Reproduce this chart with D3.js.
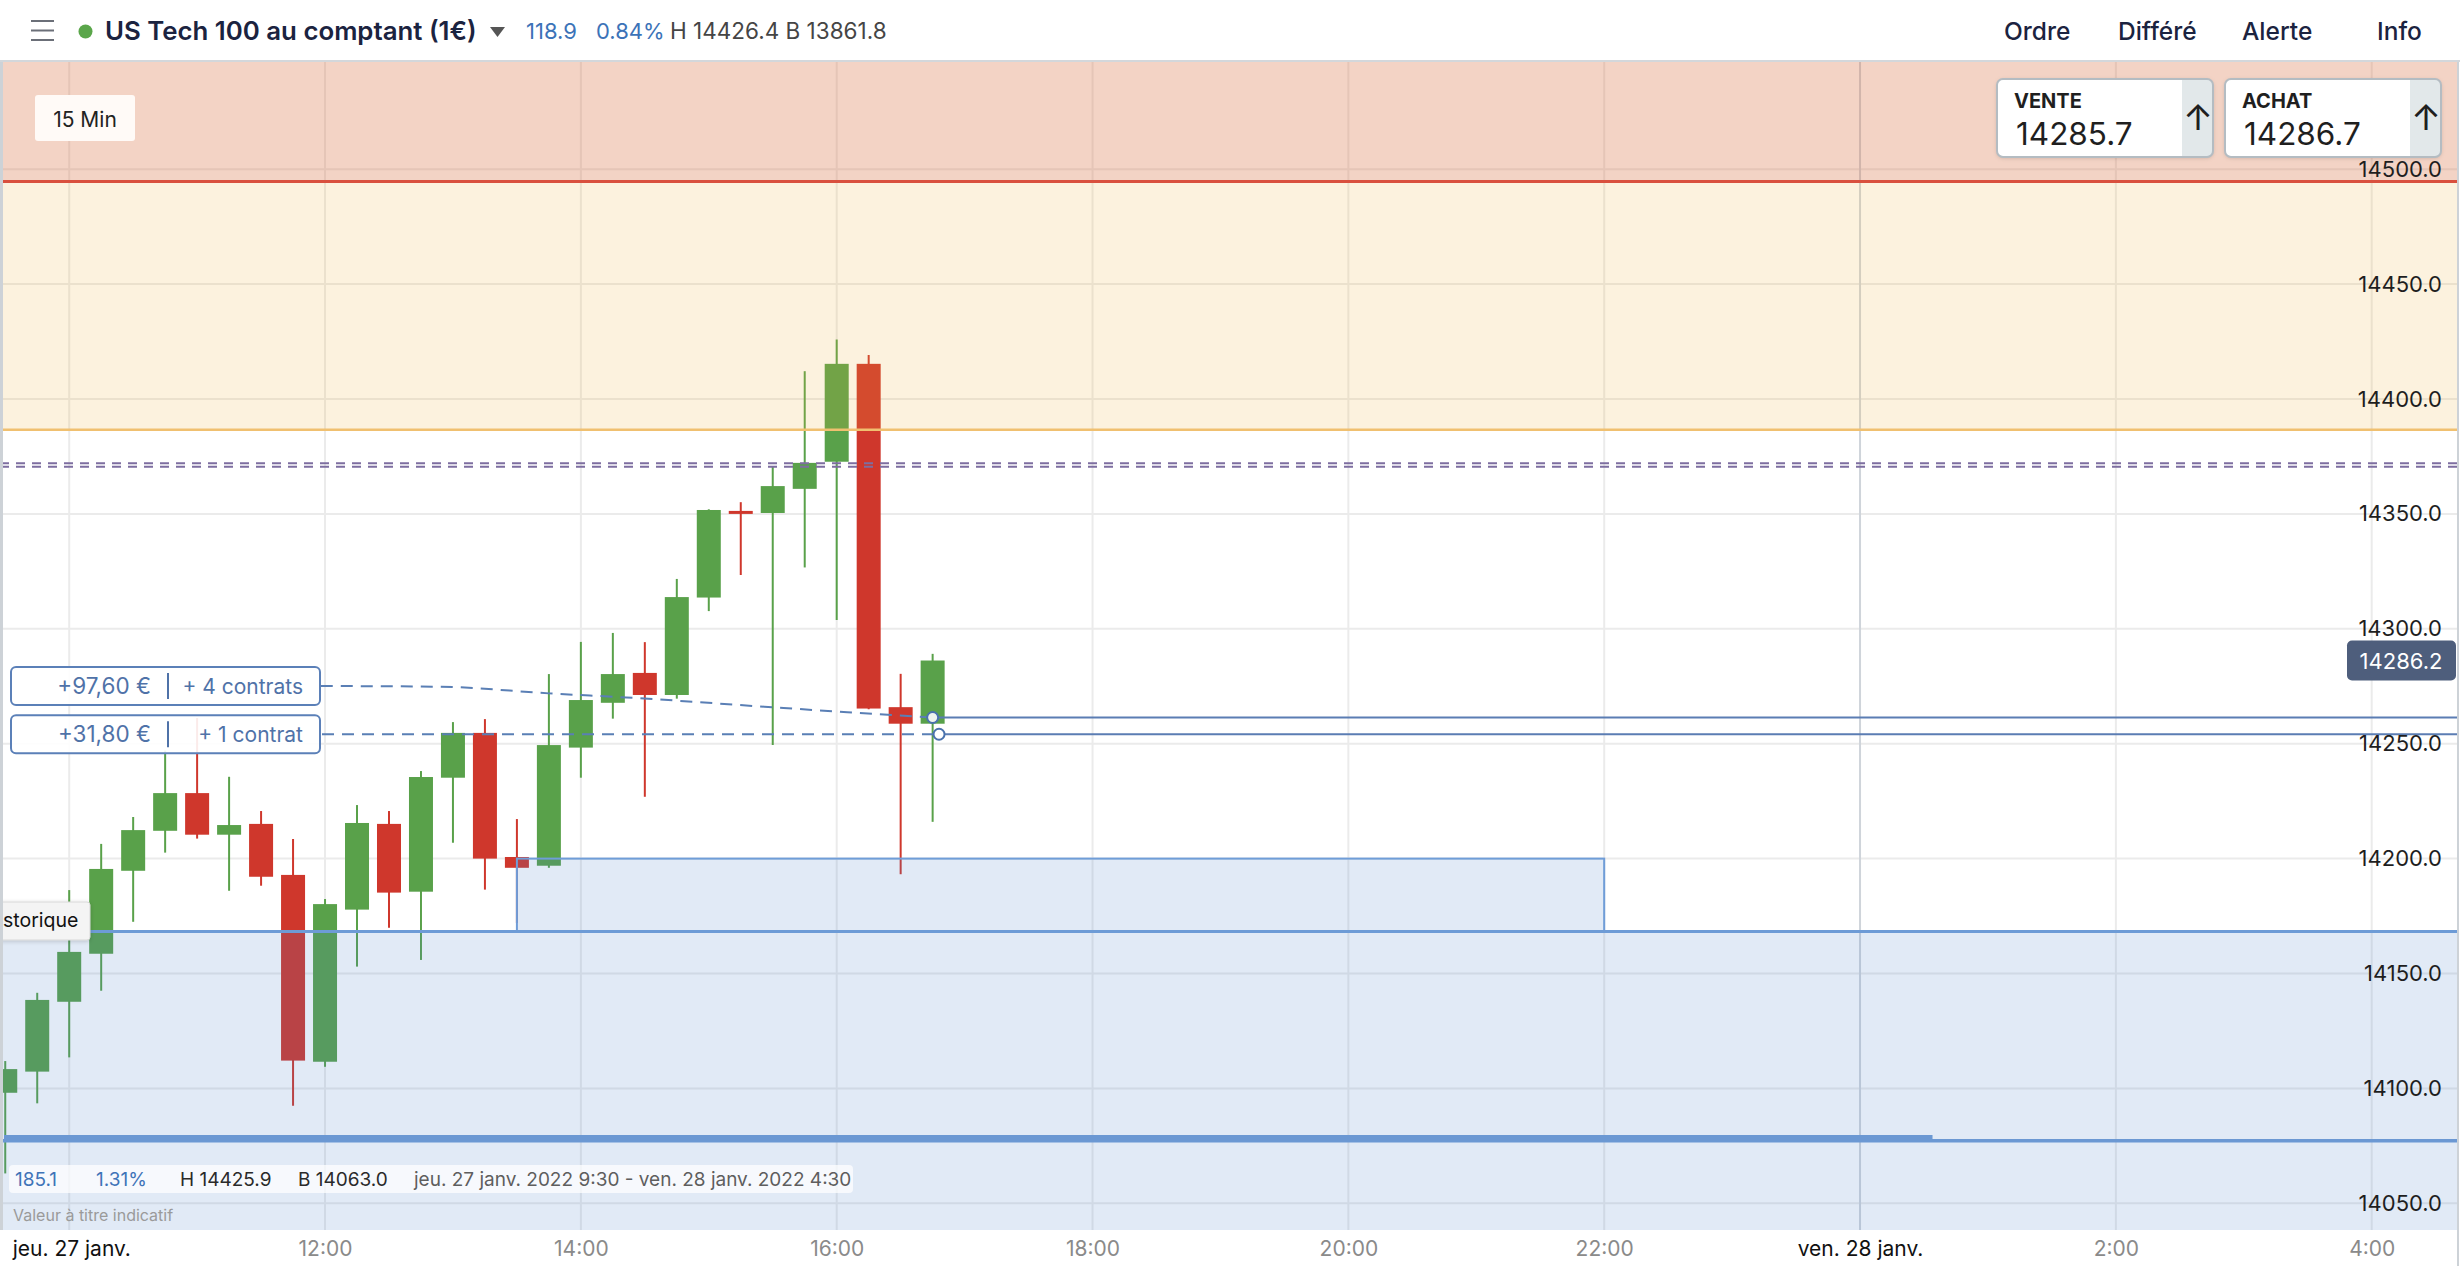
<!DOCTYPE html>
<html>
<head>
<meta charset="utf-8">
<script src="https://cdn.jsdelivr.net/npm/d3@7"></script>
<style>
  body { margin: 0; background: #fff; overflow: hidden; }
  svg { display: block; font-family: Inter, "Noto Sans", sans-serif; }
</style>
</head>
<body>
<div id="chart"></div>
<script>
// ---- data ----
const candleTimes = [
  "09:30", "09:45", "10:00", "10:15", "10:30", "10:45", "11:00", "11:15", "11:30", "11:45",
  "12:00", "12:15", "12:30", "12:45", "13:00", "13:15", "13:30", "13:45", "14:00", "14:15",
  "14:30", "14:45", "15:00", "15:15", "15:30", "15:45", "16:00", "16:15", "16:30", "16:45"
];
const opens = [
  14098.1, 14107.3, 14137.7, 14158.6, 14194.7, 14212.1, 14228.5, 14210.4, 14215.1, 14192.9,
  14111.6, 14177.8, 14215.1, 14185.6, 14235.2, 14254.7, 14200.7, 14196.9, 14248.3, 14267.8,
  14280.8, 14271.2, 14313.6, 14351.3, 14350.4, 14360.9, 14372.7, 14415.3, 14265.9, 14258.7
];
const highs = [
  14111.9, 14141.6, 14186.3, 14206.4, 14218.1, 14247.0, 14261.2, 14235.6, 14220.7, 14208.5,
  14182.4, 14223.3, 14220.7, 14238.1, 14259.4, 14260.7, 14217.2, 14280.3, 14294.3, 14298.2,
  14294.2, 14321.7, 14352.0, 14355.1, 14370.7, 14412.1, 14425.9, 14419.1, 14280.4, 14289.1
];
const lows = [
  14063.0, 14093.5, 14113.5, 14142.5, 14172.5, 14202.6, 14208.7, 14186.0, 14188.2, 14092.5,
  14109.4, 14153.0, 14169.9, 14155.9, 14206.9, 14186.5, 14172.0, 14196.0, 14235.2, 14260.9,
  14226.9, 14269.6, 14307.7, 14323.4, 14249.4, 14326.7, 14303.8, 14265.0, 14193.2, 14216.0
];
const closes = [
  14108.4, 14138.5, 14159.4, 14195.5, 14212.4, 14228.5, 14210.4, 14214.6, 14192.1, 14112.1,
  14180.2, 14215.5, 14185.2, 14235.5, 14254.7, 14200.0, 14196.0, 14249.4, 14269.0, 14280.3,
  14271.2, 14313.8, 14351.7, 14350.0, 14362.1, 14372.2, 14415.3, 14265.3, 14258.7, 14286.2
];

const priceTicks = [14050, 14100, 14150, 14200, 14250, 14300, 14350, 14400, 14450, 14500];
const timeTicks = [
  "2022-01-27 10:00", "2022-01-27 12:00", "2022-01-27 14:00", "2022-01-27 16:00",
  "2022-01-27 18:00", "2022-01-27 20:00", "2022-01-27 22:00", "2022-01-28 00:00",
  "2022-01-28 02:00", "2022-01-28 04:00"
];
const dayLabels = { "2022-01-27 10:00": "jeu. 27 janv.", "2022-01-28 00:00": "ven. 28 janv." };

// horizontal levels
const redLevel = 14494.6;
const orangeLevel = 14386.6;
const supportLevel = 14168.3;
const lowLevel = 14077.2;
const lowLevelThick = 14078.6;
const lowThickEnd = "2022-01-28 00:34";
const markerLevels = [14372.0, 14370.5];
const boxStart = "2022-01-27 13:30";
const boxEnd = "2022-01-27 22:00";
const boxTop = 14200.0;
const boxBottom = 14168.3;

// open positions
const posPnl = ["+97,60 €", "+31,80 €"];
const posSize = ["+ 4 contrats", "+ 1 contrat"];
const posLabelLevels = [14275.1, 14254.1];
const posEntryLevels = [14261.4, 14254.1];
const posEntryTimes = ["2022-01-27 16:45", "2022-01-27 16:48"];
const pos1PathTimes = ["11:58", "12:54", "13:45", "14:27", "15:26", "16:05", "16:45"];
const pos1PathPrices = [14275.1, 14274.8, 14271.9, 14269.8, 14266.1, 14263.7, 14261.4];
const lastPrice = 14286.2;

// ---- layout ----
const W = 2460, H = 1266;
const plotTop = 62, plotBottom = 1230, plotRight = 2457;
const green = "#59a14a", red = "#cf372c";

const parse = d3.timeParse("%Y-%m-%d %H:%M");
const day = t => parse("2022-01-27 " + t);

const x = d3.scaleTime()
  .domain([parse("2022-01-27 10:00"), parse("2022-01-28 04:00")])
  .range([69.2, 2371.7]);
const y = d3.scaleLinear().domain([14050, 14500]).range([1203.3, 169.2]);

const svg = d3.select("#chart").append("svg").attr("width", W).attr("height", H);

svg.append("defs").append("clipPath").attr("id", "plotclip")
  .append("rect").attr("x", 0).attr("y", plotTop).attr("width", plotRight).attr("height", plotBottom - plotTop);
const shadow = svg.select("defs").append("filter").attr("id", "shadow")
  .attr("x", "-20%").attr("y", "-30%").attr("width", "140%").attr("height", "160%");
shadow.append("feDropShadow").attr("dx", 0).attr("dy", 1).attr("stdDeviation", 2)
  .attr("flood-color", "#000").attr("flood-opacity", 0.18);

const plot = svg.append("g").attr("clip-path", "url(#plotclip)");

// grid
plot.append("g").selectAll("line").data(priceTicks).join("line")
  .attr("x1", 0).attr("x2", plotRight)
  .attr("y1", d => y(d)).attr("y2", d => y(d))
  .attr("stroke", "#ebebeb").attr("stroke-width", 2);
plot.append("g").selectAll("line").data(timeTicks).join("line")
  .attr("x1", d => x(parse(d))).attr("x2", d => x(parse(d)))
  .attr("y1", plotTop).attr("y2", plotBottom)
  .attr("stroke", d => d.endsWith("00:00") ? "#cfd4da" : "#ebebeb").attr("stroke-width", 2);

// candles
const candles = candleTimes.map((t, i) => ({
  t: day(t), o: opens[i], h: highs[i], l: lows[i], c: closes[i]
}));
const bodyW = 24;
const cg = plot.append("g");
cg.selectAll("line").data(candles).join("line")
  .attr("x1", d => x(d.t)).attr("x2", d => x(d.t))
  .attr("y1", d => y(d.h)).attr("y2", d => y(d.l))
  .attr("stroke", d => d.c >= d.o ? green : red).attr("stroke-width", 2);
cg.selectAll("rect").data(candles).join("rect")
  .attr("x", d => x(d.t) - bodyW / 2).attr("width", bodyW)
  .attr("y", d => y(Math.max(d.o, d.c)))
  .attr("height", d => Math.max(2, Math.abs(y(d.o) - y(d.c))))
  .attr("fill", d => d.c >= d.o ? green : red);

// zone overlays
const topVal = y.invert(plotTop), botVal = y.invert(plotBottom);
plot.append("rect").attr("x", 0).attr("width", plotRight)
  .attr("y", y(topVal)).attr("height", y(redLevel) - y(topVal))
  .attr("fill", "rgba(215,108,62,0.3)");
plot.append("rect").attr("x", 0).attr("width", plotRight)
  .attr("y", y(redLevel)).attr("height", y(orangeLevel) - y(redLevel))
  .attr("fill", "rgba(240,175,60,0.17)");
plot.append("rect").attr("x", 0).attr("width", plotRight)
  .attr("y", y(supportLevel)).attr("height", y(botVal) - y(supportLevel))
  .attr("fill", "rgba(75,130,200,0.17)");
plot.append("rect")
  .attr("x", x(parse(boxStart))).attr("width", x(parse(boxEnd)) - x(parse(boxStart)))
  .attr("y", y(boxTop)).attr("height", y(boxBottom) - y(boxTop))
  .attr("fill", "rgba(75,130,200,0.17)").attr("stroke", "#6f9dd8").attr("stroke-width", 2);

// level lines
const hline = (v, color, w, x1 = 0, x2 = plotRight) => plot.append("line")
  .attr("x1", x1).attr("x2", x2).attr("y1", y(v)).attr("y2", y(v))
  .attr("stroke", color).attr("stroke-width", w);
hline(redLevel, "#d9503e", 3);
hline(orangeLevel, "#f0c070", 2.5);
hline(supportLevel, "#6d9bd6", 3);
hline(lowLevel, "#6b98d3", 3.5);
hline(lowLevelThick, "#6b98d3", 5, 4, x(parse(lowThickEnd)));
markerLevels.forEach(v => hline(v, "#7d6ea0", 2).attr("stroke-dasharray", "9,7"));

// position lines
const line1 = d3.line().x(d => x(d[0])).y(d => y(d[1])).curve(d3.curveMonotoneX);
plot.append("path")
  .datum(pos1PathTimes.map((t, i) => [day(t), pos1PathPrices[i]]))
  .attr("d", line1).attr("fill", "none")
  .attr("stroke", "#5a7fb5").attr("stroke-width", 2).attr("stroke-dasharray", "12,8");
hline(posEntryLevels[1], "#5a7fb5", 2, 322, x(parse(posEntryTimes[1]))).attr("stroke-dasharray", "12,8");
posEntryLevels.forEach((v, i) => hline(v, "#5b7db3", 2, x(parse(posEntryTimes[i])), plotRight));
plot.selectAll("circle.pos").data(posEntryLevels).join("circle").attr("class", "pos")
  .attr("cx", (d, i) => x(parse(posEntryTimes[i]))).attr("cy", d => y(d)).attr("r", 5.5)
  .attr("fill", (d, i) => i === 0 ? "#eef4ee" : "#fff")
  .attr("stroke", "#4a72ad").attr("stroke-width", 2);

// right price axis
const yAxis = svg.append("g").attr("transform", `translate(2442,0)`)
  .call(d3.axisLeft(y).tickValues(priceTicks).tickSize(0).tickPadding(0).tickFormat(d => d.toFixed(1)));
yAxis.select(".domain").remove();
yAxis.selectAll("text").attr("font-family", "Inter").attr("font-size", 22).attr("fill", "#1e1e1e");

// last price tag
const lp = svg.append("g");
lp.append("rect").attr("x", 2347).attr("y", y(lastPrice) - 20).attr("width", 109).attr("height", 40)
  .attr("rx", 5).attr("fill", "#4e5e7c");
lp.append("text").attr("x", 2401).attr("y", y(lastPrice) + 8).attr("text-anchor", "middle")
  .attr("font-size", 22).attr("fill", "#fff").text(lastPrice.toFixed(1));

// position label boxes
posPnl.forEach((p, i) => {
  const cy = y(posLabelLevels[i]);
  const g = svg.append("g");
  g.append("rect").attr("x", 11).attr("y", cy - 19).attr("width", 309).attr("height", 38).attr("rx", 5)
    .attr("fill", "rgba(255,255,255,0.9)").attr("stroke", "#5b80b8").attr("stroke-width", 2);
  g.append("text").attr("x", 151).attr("y", cy + 8).attr("text-anchor", "end")
    .attr("font-size", 22.5).attr("fill", "#4f72a8").text(p);
  g.append("line").attr("x1", 168).attr("x2", 168).attr("y1", cy - 13).attr("y2", cy + 13)
    .attr("stroke", "#4f72a8").attr("stroke-width", 2);
  g.append("text").attr("x", 303).attr("y", cy + 8).attr("text-anchor", "end")
    .attr("font-size", 21).attr("fill", "#4f72a8").text(posSize[i]);
});

// tooltip cut by the left edge of the chart
const hist = svg.append("g");
hist.append("rect").attr("x", -60).attr("y", 902).attr("width", 150).attr("height", 38).attr("rx", 3)
  .attr("fill", "#f4f4f4").attr("stroke", "#d8d8d8").attr("filter", "url(#shadow)");
hist.append("text").attr("x", 3).attr("y", 927)
  .attr("font-size", 19.5).attr("fill", "#111").text("storique");

// info bar
const info = svg.append("g");
info.append("rect").attr("x", 9).attr("y", 1165).attr("width", 844).attr("height", 28).attr("rx", 4)
  .attr("fill", "rgba(255,255,255,0.72)");
const infoItems = [
  [15, "185.1", "#3f74b8"], [96, "1.31%", "#3f74b8"], [180, "H 14425.9", "#2a2a2a"],
  [298, "B 14063.0", "#2a2a2a"], [414, "jeu. 27 janv. 2022 9:30 - ven. 28 janv. 2022 4:30", "#5e5e5e"]
];
info.selectAll("text").data(infoItems).join("text")
  .attr("x", d => d[0]).attr("y", 1186).attr("font-size", 19).attr("fill", d => d[2]).text(d => d[1]);
svg.append("text").attr("x", 13).attr("y", 1221).attr("font-size", 16).attr("fill", "#9a9a9a")
  .text("Valeur à titre indicatif");

// bottom time axis
svg.append("rect").attr("x", 0).attr("y", plotBottom).attr("width", W).attr("height", H - plotBottom).attr("fill", "#fff");
const xAxis = svg.append("g").attr("transform", `translate(0,${plotBottom})`)
  .call(d3.axisBottom(x).tickValues(timeTicks.map(parse)).tickSize(0).tickPadding(0)
    .tickFormat(d => dayLabels[d3.timeFormat("%Y-%m-%d %H:%M")(d)] || d3.timeFormat("%-H:%M")(d)));
xAxis.select(".domain").remove();
xAxis.selectAll("text").attr("y", 26).attr("dy", 0).attr("font-family", "Inter").attr("font-size", 21)
  .attr("fill", d => dayLabels[d3.timeFormat("%Y-%m-%d %H:%M")(d)] ? "#111" : "#8a8a8a");
xAxis.selectAll(".tick").filter(d => d3.timeFormat("%H:%M")(d) === "10:00")
  .select("text").attr("text-anchor", "start").attr("x", -57);

// plot borders
svg.append("line").attr("x1", 1.5).attr("x2", 1.5).attr("y1", plotTop).attr("y2", plotBottom)
  .attr("stroke", "#cdd2d7").attr("stroke-width", 3);
svg.append("line").attr("x1", plotRight + 1).attr("x2", plotRight + 1).attr("y1", plotTop).attr("y2", H)
  .attr("stroke", "#cdd2d7").attr("stroke-width", 2);

// "15 Min" button
const btn = svg.append("g");
btn.append("rect").attr("x", 35).attr("y", 95).attr("width", 100).attr("height", 46).attr("rx", 3).attr("fill", "#fffaf7");
btn.append("text").attr("x", 85).attr("y", 127).attr("text-anchor", "middle")
  .attr("font-size", 21).attr("fill", "#222").text("15 Min");

// sell / buy boxes
[["VENTE", "14285.7", 1997], ["ACHAT", "14286.7", 2225]].forEach(([lab, val, bx]) => {
  const g = svg.append("g");
  g.append("rect").attr("x", bx).attr("y", 79).attr("width", 216).attr("height", 78).attr("rx", 6)
    .attr("fill", "#fff").attr("filter", "url(#shadow)");
  g.append("path")
    .attr("d", `M${bx + 185},79 H${bx + 210} a6,6 0 0 1 6,6 V151 a6,6 0 0 1 -6,6 H${bx + 185} Z`)
    .attr("fill", "#e2e8ea");
  g.append("rect").attr("x", bx).attr("y", 79).attr("width", 216).attr("height", 78).attr("rx", 6)
    .attr("fill", "none").attr("stroke", "#b4bcc2").attr("stroke-width", 2);
  g.append("text").attr("x", bx + 17).attr("y", 108).attr("font-size", 20).attr("font-weight", 700)
    .attr("fill", "#1f1f1f").text(lab);
  g.append("text").attr("x", bx + 19).attr("y", 145).attr("font-size", 31.5)
    .attr("fill", "#1f1f1f").text(val);
  g.append("text").attr("x", bx + 201).attr("y", 130).attr("text-anchor", "middle").attr("font-size", 36)
    .attr("fill", "#1f1f1f").text("↑");
});

// header
const head = svg.append("g");
head.append("rect").attr("x", 0).attr("y", 0).attr("width", W).attr("height", 60).attr("fill", "#fff");
head.append("line").attr("x1", 0).attr("x2", W).attr("y1", 61).attr("y2", 61).attr("stroke", "#d3d7db").attr("stroke-width", 2);
[21, 30.5, 40].forEach(yy => head.append("line").attr("x1", 31).attr("x2", 54).attr("y1", yy).attr("y2", yy)
  .attr("stroke", "#6b6f78").attr("stroke-width", 2));
head.append("circle").attr("cx", 85.5).attr("cy", 31.5).attr("r", 7).attr("fill", "#5aa64a");
head.append("text").attr("x", 105).attr("y", 40).attr("font-size", 25.8).attr("font-weight", 600)
  .attr("fill", "#1b2340").text("US Tech 100 au comptant (1€)");
head.append("path").attr("d", "M490,27 L505,27 L497.5,37 Z").attr("fill", "#555");
head.append("text").attr("x", 526).attr("y", 39).attr("font-size", 22).attr("fill", "#3c73b8").text("118.9");
head.append("text").attr("x", 596).attr("y", 39).attr("font-size", 22).attr("fill", "#3c73b8").text("0.84%");
head.append("text").attr("x", 670).attr("y", 39).attr("font-size", 22.5).attr("fill", "#454545").text("H 14426.4 B 13861.8");
[["Ordre", 2004], ["Différé", 2118], ["Alerte", 2242], ["Info", 2377]].forEach(([t, tx]) =>
  head.append("text").attr("x", tx).attr("y", 40).attr("font-size", 24.5).attr("font-weight", 500)
    .attr("fill", "#1b2340").text(t));
</script>
</body>
</html>
